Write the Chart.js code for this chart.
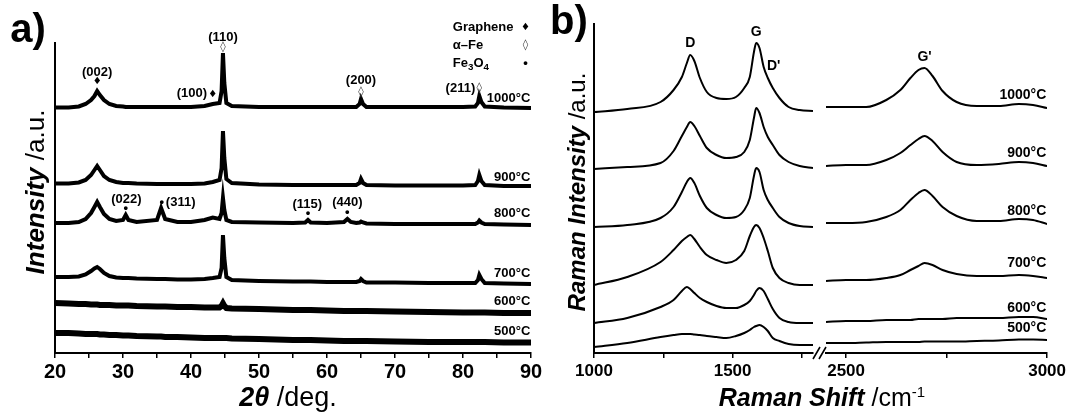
<!DOCTYPE html>
<html><head><meta charset="utf-8">
<script src="https://cdn.jsdelivr.net/npm/chart.js@4.4.0/dist/chart.umd.min.js"></script>
<style>
html,body{margin:0;padding:0;background:#fff;}
#wrap{position:relative;width:1069px;height:412px;overflow:hidden;font-family:"Liberation Sans",Arial,sans-serif;color:#000;}
canvas{position:absolute;}
.t{position:absolute;white-space:nowrap;line-height:1;transform:translate(-50%,-50%);}
.rot{transform:translate(-50%,-50%) rotate(-90deg);}
.sup{font-size:0.6em;vertical-align:0.6em;line-height:0;}
</style></head><body>
<div id="wrap">
<canvas id="ca" style="left:0px;top:0px" width="545" height="412"></canvas>
<canvas id="cb1" style="left:540px;top:0px" width="290" height="412"></canvas>
<canvas id="cb2" style="left:790px;top:0px" width="279" height="412"></canvas>
<div class="t" style="left:28px;top:28px;font-size:40px;font-weight:bold">a)</div>
<div class="t" style="left:569px;top:20px;font-size:40px;font-weight:bold">b)</div>
<div class="t" style="left:288px;top:397px;font-size:27px"><b><i>2θ</i></b> /deg.</div>
<div class="t" style="left:822px;top:397px;font-size:25px"><b><i>Raman Shift</i></b> /cm<span class="sup">-1</span></div>
<div class="t rot" style="left:35px;top:192px;font-size:26px"><b><i>Intensity</i></b> /a.u.</div>
<div class="t rot" style="left:577px;top:192px;font-size:24px"><b><i>Raman Intensity</i></b> /a.u.</div>
</div>
<script>
// ---------- XRD (panel a) ----------
const xrdAngle = [20, 22, 23.5, 24.5, 25.3, 25.8, 26.2, 26.6, 27.2, 28,
  29, 30, 30.4, 30.8, 32, 35, 35.6, 36.2, 38, 40,
  42, 43.2, 44.2, 44.5, 44.7, 44.9, 45.2, 46, 50, 55,
  56.8, 57.2, 57.6, 60, 62.5, 63, 63.5, 64.3, 64.8, 65,
  65.3, 65.8, 70, 75, 80, 81.8, 82.2, 82.4, 82.7, 83.2,
  86, 90];
const xrd1000 = [245.5, 245.5, 246.5, 249, 253, 257, 262, 258, 253, 249,
  247, 246.5, 246, 246, 246, 246, 246, 246, 246, 246,
  247, 249, 250, 262, 300, 270, 250, 247, 246, 246,
  246, 246, 246, 246, 246, 246, 246, 246, 249, 254,
  249, 246, 246, 246, 246, 246.5, 250, 257, 251, 246.5,
  245.5, 245];
const xrd900 = [169.5, 169.5, 170.5, 173, 178, 183, 187, 183, 177, 173,
  171, 170, 170, 170, 169.5, 169, 169, 169, 169, 169,
  169.5, 171, 173, 185, 222, 195, 174, 170, 168.5, 168,
  168, 168, 168, 168, 168, 168, 168, 168, 170, 174,
  170, 168, 167.5, 167.5, 167.5, 168, 172, 178, 172, 168,
  167, 167];
const xrd800 = [130, 130, 131, 134, 140, 146, 151, 146, 139, 134,
  132, 133, 138, 133, 131, 133, 145, 134, 131, 131,
  133, 135.5, 134, 140, 155, 143, 133, 131, 130.5, 130,
  130.5, 133, 130.5, 130, 131, 134, 131, 130, 130.5, 131.5,
  130.5, 129.5, 129, 129, 129, 129, 130.5, 132.5, 130.5, 129,
  128.5, 128];
const xrd700 = [76, 76, 76.5, 78.5, 82, 84.5, 86, 84, 80, 77,
  75.5, 75, 75, 75, 74.5, 74, 74, 74, 73.5, 73.5,
  74, 75, 76, 85, 118, 95, 76, 73, 72, 71.5,
  71.5, 71.5, 71.5, 71, 71, 71, 71, 71, 72, 74,
  72, 70.5, 70.5, 70, 70, 70, 73, 78, 74, 70,
  69.5, 69];
const xrd600 = [50, 49.5, 49, 49, 48.5, 48.5, 48.5, 48, 48, 48,
  47.5, 47.5, 47.5, 47.5, 47, 46.5, 46.5, 46.5, 46, 46,
  45.5, 45.5, 45.5, 47, 49.5, 47, 45, 44.5, 44, 43,
  43, 43, 43, 42.5, 42, 42, 42, 42, 42, 42,
  42, 42, 41.5, 41, 40.5, 40.5, 40.5, 40.5, 40.5, 40.5,
  40, 40];
const xrd500 = [20, 20, 19.5, 19, 19, 19, 19, 18.5, 18.5, 18,
  18, 17.5, 17.5, 17.5, 17, 16.5, 16.5, 16, 16, 15.5,
  15, 15, 15, 15, 15, 15, 15, 14.5, 14, 13,
  13, 13, 13, 12.5, 12, 12, 12, 12, 12, 12,
  12, 12, 11.5, 11, 11, 11, 11, 11, 11, 11,
  10.5, 10.5];
const xrdSeries = [xrd1000, xrd900, xrd800, xrd700, xrd600, xrd500];
const tempLabels = ['1000°C', '900°C', '800°C', '700°C', '600°C', '500°C'];
const xrdTempY = [255, 176, 140, 80, 51.5, 21.5];
const xrdTicks = [20, 25, 30, 35, 40, 45, 50, 55, 60, 65, 70, 75, 80, 85, 90];
const xrdTickLabels = [20, 30, 40, 50, 60, 70, 80, 90];

// peak labels: [text, 2theta, level]
const hklLabels = [['(002)', 26.2, 281], ['(110)', 44.7, 316], ['(200)', 65.0, 273],
  ['(022)', 30.5, 154], ['(115)', 57.1, 149], ['(440)', 63.0, 150.3]];
const hklLabelsRight = [['(100)', 42.35, 260], ['(211)', 81.8, 265]];
const hklLabelsLeft = [['(311)', 36.3, 151]];
const grapheneMarks = [[26.2, 272], [43.2, 259]];
const alphaFeMarks = [[44.7, 306], [65.0, 261], [82.4, 265]];
const fe3o4Marks = [[30.4, 144.7], [35.7, 150.3], [57.2, 139.7], [63.0, 140.7]];
const legendNames = ['Graphene', 'α–Fe', 'Fe3O4'];
const legendY = [326, 308, 290];

// ---------- Raman (panel b) ----------
const ramanLoShift = [1000, 1120, 1240, 1287, 1317, 1335, 1347, 1362, 1382, 1407, 1442, 1477, 1512,
  1542, 1562, 1577, 1585, 1597, 1612, 1627, 1645, 1669, 1702, 1742, 1790];
const raman1000Lo = [241, 244, 251, 263, 276, 290, 298, 292, 275, 261, 255, 254, 256, 265, 276, 301, 310, 305, 286, 275, 265, 255, 246, 243, 242];
const raman900Lo = [184, 186, 190, 202, 217, 226, 231, 227, 217, 205, 198, 195, 196, 201, 213, 235, 245, 240, 226, 216, 208, 198, 191, 187, 185];
const raman800Lo = [126, 128, 135, 146, 161, 171, 175, 170, 157, 145, 138, 135, 136, 143, 155, 177, 185, 181, 163, 153, 145, 136, 130, 127, 126];
const raman700Lo = [68, 76, 91, 103, 112, 116, 118, 114, 106, 98, 93, 90, 93, 102, 117, 126, 128, 125, 115, 102, 85, 75, 70, 68, 68];
const raman600Lo = [30, 35, 46, 53, 62, 66, 64, 60, 55, 51, 47, 45, 45, 48, 52, 58, 62, 65, 62, 54, 44, 35, 31, 30, 30];
const raman500Lo = [6, 10, 16, 18, 19, 19, 19, 18.5, 18, 17, 16, 15, 17, 20, 23, 26, 27, 28, 26, 22, 15, 12, 9, 8, 8];
const ramanHiShift = [2450, 2500, 2550, 2600, 2635, 2660, 2680, 2695, 2715, 2740, 2775, 2825, 2880, 2930, 2965, 3000];
const raman1000Hi = [246, 246, 246, 253, 263, 275, 283, 285, 277, 262, 251, 247, 247, 249, 248, 245];
const raman900Hi = [187, 188, 188, 193, 200, 208, 214, 217, 212, 201, 191, 188, 189, 191, 190, 187];
const raman800Hi = [130, 130, 131, 136, 143, 153, 160, 163, 157, 146, 137, 132, 132, 134, 133, 129];
const raman700Hi = [72, 73, 73, 75, 78, 83, 87, 90, 88, 83, 79, 77, 77, 78, 77, 75];
const raman600Hi = [31, 32, 32, 33, 33, 33, 34, 34, 34, 34, 35, 35, 35, 36, 36, 34];
const raman500Hi = [10, 10, 10.5, 11, 11, 11, 11, 11.5, 11.5, 11.5, 11.5, 12, 12.5, 13.5, 13.5, 13];
const ramanLoSeries = [raman1000Lo, raman900Lo, raman800Lo, raman700Lo, raman600Lo, raman500Lo];
const ramanHiSeries = [raman1000Hi, raman900Hi, raman800Hi, raman700Hi, raman600Hi, raman500Hi];
const ramanTempY = [258, 200, 142.3, 89.7, 44.7, 24.7];
const ramanLoTicks = [1000, 1250, 1500, 1750];
const ramanLoTickLabels = [1000, 1500];
const ramanHiTicks = [2500, 2750, 3000];
const ramanHiTickLabels = [2500, 3000];
const bandLabelsLo = [['D', 1347, 310], ['G', 1585, 321]];
const bandLabelsLoLeft = [["D'", 1624, 287]];
const bandLabelsHi = [["G'", 2695, 296]];

// ---------- rendering ----------
const FONT = '"Liberation Sans", Arial, sans-serif';
Chart.defaults.font.family = FONT;
Chart.defaults.color = '#000';

const STYLE = {
  hkl: {size: 13, weight: 'bold', color: '#000'},
  temp: {size: 13, weight: 'bold', color: '#000'},
  tempB: {size: 14, weight: 'bold', color: '#000'},
  band: {size: 14, weight: 'bold', color: '#000'},
  legend: {size: 13, weight: 'bold', color: '#000'},
  diamond: {size: 10, weight: 'normal', color: '#000', family: '"DejaVu Sans", sans-serif'},
  lozenge: {size: 11, weight: 'normal', color: '#444', family: '"DejaVu Sans", sans-serif'},
  dot: {size: 13, weight: 'bold', color: '#000'}
};

function drawRich(ctx, item, px, py) {
  const st = STYLE[item.kind];
  const fam = st.family || FONT;
  const parts = item.parts || [{t: item.t}];
  let w = 0;
  const ms = parts.map(p => {
    const s = p.sub ? st.size * 0.75 : st.size;
    ctx.font = `${st.weight} ${s}px ${fam}`;
    const m = ctx.measureText(p.t).width;
    w += m;
    return {p, s, m};
  });
  let x = item.align === 'right' ? px - w : item.align === 'left' ? px : px - w / 2;
  ctx.fillStyle = st.color;
  ctx.textAlign = 'left';
  ctx.textBaseline = 'middle';
  for (const o of ms) {
    ctx.font = `${st.weight} ${o.s}px ${fam}`;
    ctx.fillText(o.p.t, x, py + (o.p.sub ? st.size * 0.32 : 0));
    x += o.m;
  }
}

function notesPlugin(items, extra) {
  return {
    id: 'notes',
    afterDraw(chart) {
      const ctx = chart.ctx, xs = chart.scales.x, ys = chart.scales.y;
      ctx.save();
      for (const it of items) drawRich(ctx, it, xs.getPixelForValue(it.x), ys.getPixelForValue(it.y));
      if (extra) extra(chart, ctx);
      ctx.restore();
    }
  };
}

function xAxis(min, max, tickValues, labelled, size, pad, height) {
  return {
    type: 'linear', min, max,
    afterBuildTicks: s => { s.ticks = tickValues.map(v => ({value: v})); },
    ticks: {autoSkip: false, maxRotation: 0, minRotation: 0, padding: pad,
      font: {size, weight: 'bold'}, color: '#000',
      callback: v => labelled.some(l => Math.abs(l - v) < 1e-6) ? String(Math.round(v)) : ''},
    grid: {display: true, drawOnChartArea: false, drawTicks: true, tickLength: 5, color: '#000', lineWidth: 1.5},
    border: {display: true, color: '#000', width: 2},
    afterFit: s => { s.height = height; }
  };
}

// panel a
const itemsA = [];
hklLabels.forEach(([t, x, y]) => itemsA.push({t, x, y, kind: 'hkl'}));
hklLabelsRight.forEach(([t, x, y]) => itemsA.push({t, x, y, kind: 'hkl', align: 'right'}));
hklLabelsLeft.forEach(([t, x, y]) => itemsA.push({t, x, y, kind: 'hkl', align: 'left'}));
grapheneMarks.forEach(([x, y]) => itemsA.push({t: '♦', x, y, kind: 'diamond'}));
alphaFeMarks.forEach(([x, y]) => itemsA.push({t: '◊', x, y, kind: 'lozenge'}));
fe3o4Marks.forEach(([x, y]) => itemsA.push({t: '•', x, y, kind: 'dot'}));
itemsA.push({t: legendNames[0], x: 78.5, y: legendY[0], kind: 'legend', align: 'left'});
itemsA.push({t: legendNames[1], x: 78.5, y: legendY[1], kind: 'legend', align: 'left'});
itemsA.push({parts: [{t: 'Fe'}, {t: '3', sub: true}, {t: 'O'}, {t: '4', sub: true}], x: 78.5, y: legendY[2], kind: 'legend', align: 'left'});
itemsA.push({t: '♦', x: 89.2, y: legendY[0], kind: 'diamond'});
itemsA.push({t: '◊', x: 89.2, y: legendY[1], kind: 'lozenge'});
itemsA.push({t: '•', x: 89.2, y: legendY[2], kind: 'dot'});
tempLabels.forEach((t, i) => itemsA.push({t, x: 89.9, y: xrdTempY[i], kind: 'temp', align: 'right'}));

new Chart(document.getElementById('ca'), {
  type: 'line',
  data: {datasets: xrdSeries.map((ys, i) => ({
    label: tempLabels[i],
    data: xrdAngle.map((x, j) => ({x, y: ys[j]})),
    borderColor: '#000', borderWidth: i >= 4 ? 6 : 4, pointRadius: 0, tension: 0, fill: false
  }))},
  options: {
    responsive: false, animation: false, events: [],
    layout: {padding: {left: 55, right: 14, top: 43, bottom: 0}},
    plugins: {legend: {display: false}, tooltip: {enabled: false}},
    scales: {
      x: xAxis(20, 90, xrdTicks, xrdTickLabels, 20, 2, 59),
      y: {min: 0, max: 310, ticks: {display: false}, grid: {display: false},
        border: {display: true, color: '#000', width: 2}, afterFit: s => { s.width = 0; }}
    }
  },
  plugins: [notesPlugin(itemsA)]
});

// panel b (left part)
const itemsB1 = [];
bandLabelsLo.forEach(([t, x, y]) => itemsB1.push({t, x, y, kind: 'band'}));
bandLabelsLoLeft.forEach(([t, x, y]) => itemsB1.push({t, x, y, kind: 'band', align: 'left'}));

const ramanDs = (xs, series) => series.map((ys, i) => ({
  label: tempLabels[i],
  data: xs.map((x, j) => ({x, y: ys[j]})),
  borderColor: '#000', borderWidth: 2, pointRadius: 0, cubicInterpolationMode: 'monotone', fill: false
}));

new Chart(document.getElementById('cb1'), {
  type: 'line',
  data: {datasets: ramanDs(ramanLoShift, ramanLoSeries)},
  options: {
    responsive: false, animation: false, events: [],
    layout: {padding: {left: 54, right: 17, top: 24, bottom: 0}},
    plugins: {legend: {display: false}, tooltip: {enabled: false}},
    scales: {
      x: xAxis(1000, 1790, ramanLoTicks, ramanLoTickLabels, 17, 3, 59),
      y: {min: 0, max: 329, ticks: {display: false}, grid: {display: false},
        border: {display: true, color: '#000', width: 2}, afterFit: s => { s.width = 0; }}
    }
  },
  plugins: [notesPlugin(itemsB1)]
});

// panel b (right part)
const itemsB2 = [];
bandLabelsHi.forEach(([t, x, y]) => itemsB2.push({t, x, y, kind: 'band'}));
tempLabels.forEach((t, i) => itemsB2.push({t, x: 2998, y: ramanTempY[i], kind: 'tempB', align: 'right'}));

function drawBreak(chart, ctx) {
  const L = chart.chartArea.left, B = chart.chartArea.bottom;
  ctx.strokeStyle = '#000';
  ctx.lineWidth = 1.6;
  ctx.beginPath();
  ctx.moveTo(L - 13, B + 6); ctx.lineTo(L - 6, B - 6);
  ctx.moveTo(L - 7, B + 6); ctx.lineTo(L, B - 6);
  ctx.stroke();
}

new Chart(document.getElementById('cb2'), {
  type: 'line',
  data: {datasets: ramanDs(ramanHiShift, ramanHiSeries)},
  options: {
    responsive: false, animation: false, events: [],
    layout: {padding: {left: 36, right: 20, top: 24, bottom: 0}},
    plugins: {legend: {display: false}, tooltip: {enabled: false}},
    scales: {
      x: xAxis(2450, 3000, ramanHiTicks, ramanHiTickLabels, 17, 3, 59),
      y: {display: false, min: 0, max: 329}
    }
  },
  plugins: [notesPlugin(itemsB2, drawBreak)]
});
</script>
</body></html>
